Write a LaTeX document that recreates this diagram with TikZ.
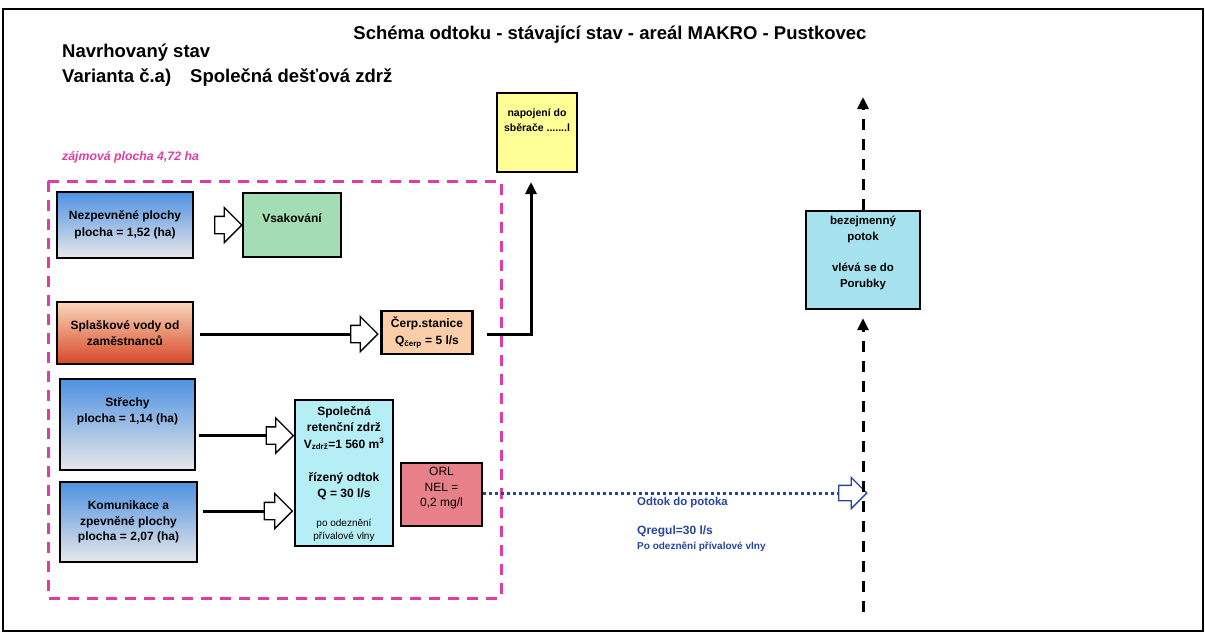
\documentclass[tikz,border=0pt]{standalone}
\usepackage{fontspec}
\setmainfont{Liberation Sans}
\usetikzlibrary{shapes.arrows,arrows.meta}
\definecolor{pinkz}{RGB}{224,60,166}
\definecolor{bluez}{RGB}{38,68,160}
\definecolor{skyT}{RGB}{78,145,226}
\definecolor{skyB}{RGB}{232,232,232}
\definecolor{peachT}{RGB}{250,214,186}
\definecolor{redB}{RGB}{214,72,40}
\definecolor{peach}{RGB}{250,206,168}
\definecolor{greenv}{RGB}{164,220,180}
\definecolor{yel}{RGB}{255,255,150}
\definecolor{cyanz}{RGB}{182,238,246}
\definecolor{cyanb}{RGB}{166,226,238}
\definecolor{orlc}{RGB}{232,128,138}
\begin{document}
\begin{tikzpicture}[x=1pt,y=-1pt,
  box/.style={draw, line width=2.4pt, inner sep=0pt, align=center, font=\bfseries\fontsize{12}{16.5}\selectfont},
  btxt/.style={inner sep=0pt, align=center, font=\bfseries\fontsize{12}{16.5}\selectfont},
  harrow/.style={single arrow, draw, fill=white, line width=1.3pt, inner xsep=0pt, inner ysep=8pt, text height=0pt, text depth=0pt, minimum height=27pt, single arrow head extend=9pt},
  conn/.style={line width=3pt},
  tip/.style={-{Triangle[length=12pt,width=11pt]}},
  bdash/.style={line width=3pt, dash pattern=on 11pt off 9pt},
  pdash/.style={draw=pinkz, line width=3pt, dash pattern=on 11pt off 8pt},
  bdot/.style={draw=bluez, line width=3pt, dash pattern=on 3pt off 3pt}]
\useasboundingbox (0,0) rectangle (1205,635);
\draw[line width=2pt] (3,9) rectangle (1203,631);

% titles
\node[font=\bfseries\fontsize{18.5}{22}\selectfont] (title) at (610,35) {Schéma odtoku - stávající stav - areál MAKRO - Pustkovec};
\node[anchor=west, inner sep=0pt, font=\bfseries\fontsize{18.5}{22}\selectfont] (nav) at (62,53) {Navrhovaný stav};
\node[anchor=west, inner sep=0pt, font=\bfseries\fontsize{18.5}{22}\selectfont] (var) at (62,78) {Varianta č.a)};
\node[anchor=west, inner sep=0pt, font=\bfseries\fontsize{18.5}{22}\selectfont] (var2) at (190,78) {Společná dešťová zdrž};
\node[anchor=west, inner sep=0pt, text=pinkz, font=\bfseries\itshape\fontsize{12.3}{14}\selectfont] (zaj) at (62,157) {zájmová plocha 4,72 ha};

% area
\draw[pdash] (48,181) rectangle (501,598);

% boxes
\node[box, minimum width=80pt, minimum height=79pt, fill=yel] (napoj) at (537,132.5) {};
\node[btxt, font=\bfseries\fontsize{10.5}{15}\selectfont] (napojt) at (537,120) {napojení do\\sběrače .......l};

\node[box, minimum width=136pt, minimum height=66pt, top color=skyT, bottom color=skyB] (nezp) at (125,225) {Nezpevněné plochy\\plocha = 1,52 (ha)};
\node[box, minimum width=98pt, minimum height=64pt, fill=greenv] (vsak) at (292,225) {};
\node[btxt] (vsakt) at (292,218) {Vsakování};

\node[box, minimum width=136pt, minimum height=62pt, top color=peachT, bottom color=redB] (spl) at (125,333) {Splaškové vody od\\zaměstnanců};
\node[box, minimum width=91pt, minimum height=43pt, fill=peach] (cerp) at (427,332.5) {Čerp.stanice\\Q\textsubscript{čerp} = 5 l/s};

\node[box, minimum width=135pt, minimum height=91pt, top color=skyT, bottom color=skyB] (str) at (127.5,424.5) {};
\node[btxt] (strt) at (127.5,411.5) {Střechy\\plocha = 1,14 (ha)};
\node[box, minimum width=137pt, minimum height=80pt, top color=skyT, bottom color=skyB, font=\bfseries\fontsize{12}{15.5}\selectfont] (kom) at (128.5,522) {Komunikace a\\zpevněné plochy\\plocha = 2,07 (ha)};

\node[box, minimum width=98pt, minimum height=146pt, fill=cyanz] (spol) at (344,473) {};
\node[btxt] (spolt) at (344,428) {Společná\\retenční zdrž\\V\textsubscript{zdrž}=1 560 m\textsuperscript{3}};
\node[btxt] (spolq) at (344,486) {řízený odtok\\Q = 30 l/s};
\node[btxt, font=\fontsize{10}{13}\selectfont] (spolp) at (344,530.5) {po odeznění\\přívalové vlny};

\node[box, minimum width=81pt, minimum height=63pt, fill=orlc] (orl) at (441.5,494.5) {};
\node[btxt, font=\fontsize{12}{15.5}\selectfont] (orlt) at (441.5,488.5) {ORL\\NEL =\\0,2 mg/l};

\node[box, minimum width=114pt, minimum height=98pt, fill=cyanb] (bez) at (863,260) {};
\node[btxt, font=\bfseries\fontsize{11.5}{15.5}\selectfont] (bezt) at (863,253) {bezejmenný\\potok\\[16pt]vlévá se do\\Porubky};

% hollow arrows
\node[harrow] (a1) at (224,225) {};
\node[harrow] (a2) at (360,334) {};
\node[harrow] (a3) at (275.5,435.5) {};
\node[harrow, minimum height=28pt] (a4) at (274,511) {};
\node[harrow, draw=bluez, inner ysep=7pt, single arrow head extend=8pt, minimum height=28pt] (a5) at (849,493) {};

% connectors
\coordinate (c0) at (200,334);
\draw[conn] (c0) -- (a2.west);
\coordinate (c1) at (199,435.5);
\draw[conn] (c1) -- (a3.west);
\coordinate (c2) at (203,511);
\draw[conn] (c2) -- (a4.west);
\coordinate (cs) at (487,334);
\coordinate (up) at (531,182);
\draw[conn, tip] (cs) -| (up);
\draw[bdot] (a5.west -| orl.east) -- (a5.west);

\node[anchor=west, inner sep=0pt, text=bluez, font=\bfseries\fontsize{11.4}{13}\selectfont] (odt) at (637,503) {Odtok do potoka};
\node[anchor=west, inner sep=0pt, text=bluez, font=\bfseries\fontsize{12}{14}\selectfont] (qreg) at (637,531) {Qregul=30 l/s};
\node[anchor=west, inner sep=0pt, text=bluez, font=\bfseries\fontsize{10}{12}\selectfont] (poo) at (637,547) {Po odeznění přívalové vlny};

\coordinate (rb) at (863,612);
\coordinate (rt) at (863,97);
\draw[bdash, tip] (rb) -- ([yshift=-8pt]bez.south);
\draw[bdash, tip] (bez.north) -- (rt);
\end{tikzpicture}
\end{document}
